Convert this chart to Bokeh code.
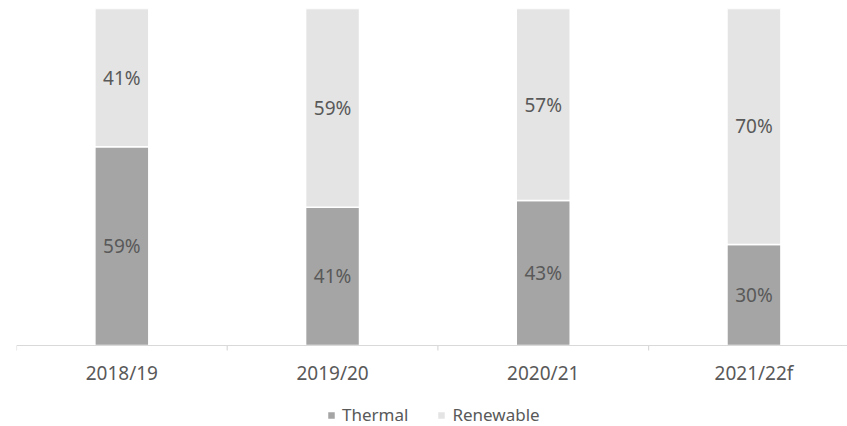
import math
from bokeh.plotting import figure
from bokeh.models import Range1d, Legend, LegendItem, ColumnDataSource, Span
from bokeh.core.properties import value
from bokeh.embed import file_html
from bokeh.resources import INLINE

categories = ["2018/19", "2019/20", "2020/21", "2021/22f"]
thermal = [59, 41, 43, 30]
renewable = [41, 59, 57, 70]
series_names = ["Thermal", "Renewable"]

FONT = "Noto Sans"
TXT = "#595959"
C_TH = "#a5a5a5"
C_RE = "#e4e4e4"
AXIS_C = "#d9d9d9"

xs = [i + 0.5 for i in range(len(categories))]
bounds = list(range(len(categories) + 1))
src = ColumnDataSource(dict(x=xs, Thermal=[t / 100 for t in thermal], Renewable=[r / 100 for r in renewable]))

# frame covers 8..426 vertically; value 0 sits at 345 px (81 px of room below)
p = figure(width=847, height=426, output_backend="svg", toolbar_location=None,
           x_range=Range1d(0, 3.944), y_range=Range1d(-81 / 337, 1),
           min_border_left=16, min_border_right=0, min_border_top=8, min_border_bottom=0,
           outline_line_color=None)
p.xgrid.visible = False
p.ygrid.visible = False
p.xaxis.visible = False
p.yaxis.visible = False

r = p.vbar_stack(series_names, x="x", width=0.256, source=src, color=[C_TH, C_RE],
                 line_color="white", line_width=1.5)

# category axis: baseline, boundary tick marks, centred labels
p.add_layout(Span(location=0, dimension="width", line_color=AXIS_C, line_width=1.2))
p.ray(x=bounds, y=[0] * len(bounds), length=5, length_units="screen", angle=-math.pi / 2,
      line_color=AXIS_C, line_width=1.2)
p.text(x=xs, y=[0] * len(xs), text=categories, y_offset=27, text_align="center",
       text_baseline="middle", text_font=value(FONT), text_font_size="19px", text_color=TXT)

th_mid = [t / 200 for t in thermal]
re_mid = [(t + rr / 2) / 100 for t, rr in zip(thermal, renewable)]
labels = [f"{t}%" for t in thermal] + [f"{rr}%" for rr in renewable]
p.text(x=xs + xs, y=th_mid + re_mid, text=labels, text_align="center", text_baseline="middle",
       text_font=value(FONT), text_font_size="19px", text_color=TXT)

legend = Legend(items=[LegendItem(label=n, renderers=[rr]) for n, rr in zip(series_names, r)],
                orientation="horizontal", location=(310, 0),
                label_text_font=FONT, label_text_font_size="17px", label_text_color=TXT,
                glyph_width=10, glyph_height=10, spacing=28, label_standoff=6,
                border_line_color=None, background_fill_color=None, padding=4, margin=0)
p.add_layout(legend, "center")

open("out.html", "w").write(file_html(p, INLINE))
